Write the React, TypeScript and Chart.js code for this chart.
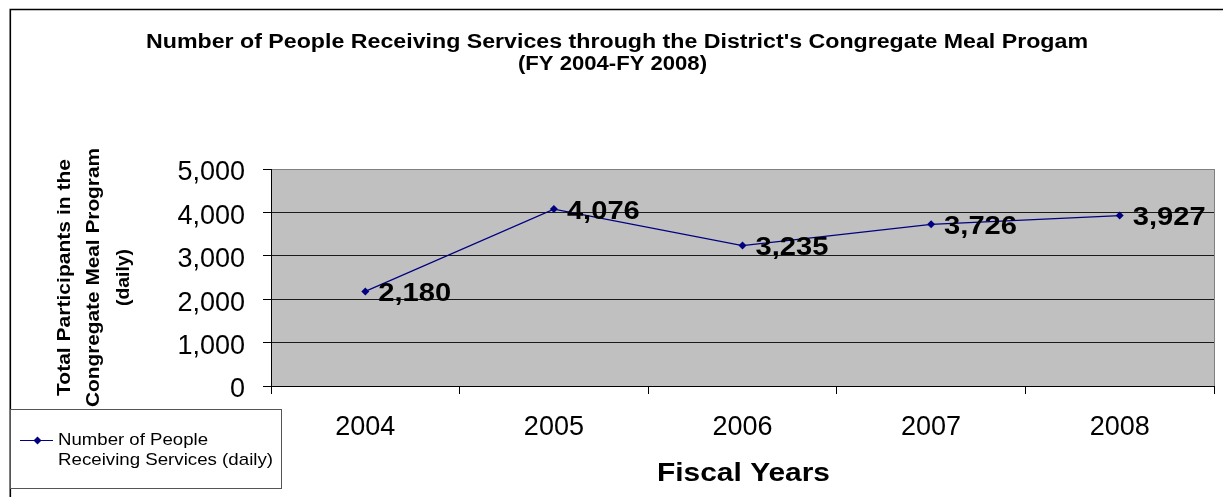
import { useEffect, useRef } from 'react';
import { Chart, registerables } from 'chart.js';

Chart.register(...registerables);

const categories = ['2004', '2005', '2006', '2007', '2008'];
const participants = [2180, 4076, 3235, 3726, 3927];
const yMin = 0;
const yMax = 5000;
const yStep = 1000;
const chartTitle = [
  "Number of People Receiving Services through the District's Congregate Meal Progam",
  '(FY 2004-FY 2008)',
];
const yTitle = ['Total Participants in the', 'Congregate Meal Program', '(daily)'];
const xTitle = 'Fiscal Years';
const seriesName = ['Number of People', 'Receiving Services (daily)'];

const FAMILY = '"Liberation Sans", Arial, Helvetica, sans-serif';
const NAVY = '#000080';

function drawText(
  ctx: CanvasRenderingContext2D,
  text: string,
  x: number,
  y: number,
  font: string,
  align: CanvasTextAlign,
  opts: { width?: number; sx?: number; rotate?: boolean; baseline?: CanvasTextBaseline } = {}
) {
  ctx.save();
  ctx.font = font;
  const w = ctx.measureText(text).width;
  const sx = opts.width ? opts.width / w : opts.sx ?? 1;
  ctx.translate(x, y);
  if (opts.rotate) ctx.rotate(-Math.PI / 2);
  ctx.scale(sx, 1);
  ctx.textAlign = align;
  ctx.textBaseline = opts.baseline ?? 'alphabetic';
  ctx.fillStyle = '#000';
  ctx.fillText(text, 0, 0);
  ctx.restore();
}

const decor = {
  id: 'decor',
  beforeDraw(chart: any) {
    const { ctx, chartArea: a } = chart;
    ctx.save();
    ctx.fillStyle = '#ffffff';
    ctx.fillRect(0, 0, chart.width, chart.height);
    ctx.fillStyle = '#c0c0c0';
    ctx.fillRect(a.left, a.top, a.right - a.left, a.bottom - a.top);
    ctx.restore();
  },
  afterDatasetsDraw(chart: any) {
    const { ctx } = chart;
    const meta = chart.getDatasetMeta(0);
    meta.data.forEach((pt: any, i: number) => {
      const label = participants[i].toLocaleString('en-US');
      drawText(ctx, label, pt.x + 13, pt.y + 9.5, `bold 26px ${FAMILY}`, 'left', { sx: 1.12 });
    });
  },
  afterDraw(chart: any) {
    const { ctx, chartArea: a } = chart;
    ctx.save();
    // plot area right border (grey)
    ctx.strokeStyle = '#808080';
    ctx.lineWidth = 1;
    ctx.beginPath();
    ctx.moveTo(Math.round(a.right) + 0.5, a.top);
    ctx.lineTo(Math.round(a.right) + 0.5, a.bottom);
    ctx.stroke();
    // outer frame
    ctx.strokeStyle = '#000';
    ctx.lineWidth = 1.6;
    ctx.beginPath();
    ctx.moveTo(10.3, chart.height);
    ctx.lineTo(10.3, 9.5);
    ctx.lineTo(chart.width, 9.5);
    ctx.stroke();
    ctx.restore();

    // chart title
    drawText(ctx, chartTitle[0], 617, 48, `bold 20px ${FAMILY}`, 'center', { width: 942 });
    drawText(ctx, chartTitle[1], 612.5, 70, `bold 20px ${FAMILY}`, 'center', { width: 189 });

    // y axis title (rotated)
    const cy = (a.top + a.bottom) / 2;
    const yFont = `bold 18px ${FAMILY}`;
    drawText(ctx, yTitle[0], 65, cy, yFont, 'center', { width: 237, rotate: true, baseline: 'middle' });
    drawText(ctx, yTitle[1], 94.5, cy, yFont, 'center', { width: 259, rotate: true, baseline: 'middle' });
    drawText(ctx, yTitle[2], 124.5, cy, yFont, 'center', { width: 57, rotate: true, baseline: 'middle' });

    // x axis title
    drawText(ctx, xTitle, (a.left + a.right) / 2 + 1, 481, `bold 25px ${FAMILY}`, 'center', { width: 173 });

    // legend box
    ctx.save();
    ctx.fillStyle = '#ffffff';
    ctx.fillRect(10, 409, 271, 79);
    ctx.strokeStyle = '#555555';
    ctx.lineWidth = 1;
    ctx.strokeRect(10.5, 409.5, 271, 79);
    ctx.strokeStyle = NAVY;
    ctx.lineWidth = 1.2;
    ctx.beginPath();
    ctx.moveTo(20, 440.5);
    ctx.lineTo(53, 440.5);
    ctx.stroke();
    ctx.fillStyle = NAVY;
    ctx.beginPath();
    ctx.moveTo(37.5, 436.5);
    ctx.lineTo(41.5, 440.5);
    ctx.lineTo(37.5, 444.5);
    ctx.lineTo(33.5, 440.5);
    ctx.closePath();
    ctx.fill();
    ctx.restore();
    const lFont = `17px ${FAMILY}`;
    drawText(ctx, seriesName[0], 58, 445, lFont, 'left', { width: 150 });
    drawText(ctx, seriesName[1], 58, 465, lFont, 'left', { width: 215 });
  },
};

export default function App() {
  const ref = useRef<HTMLCanvasElement | null>(null);

  useEffect(() => {
    document.body.style.margin = '0';
    const canvas = ref.current;
    if (!canvas) return;
    const chart = new Chart(canvas, {
      type: 'line',
      data: {
        labels: categories,
        datasets: [
          {
            label: seriesName.join(' '),
            data: participants,
            borderColor: NAVY,
            backgroundColor: NAVY,
            borderWidth: 1.2,
            pointStyle: 'rectRot',
            pointRadius: 4,
            pointBackgroundColor: NAVY,
            pointBorderColor: NAVY,
            pointBorderWidth: 0,
            tension: 0,
            fill: false,
          },
        ],
      },
      options: {
        responsive: false,
        maintainAspectRatio: false,
        animation: false,
        devicePixelRatio: 1,
        layout: { padding: { top: 169, right: 9, left: 0, bottom: 0 } },
        plugins: {
          legend: { display: false },
          title: { display: false },
          tooltip: { enabled: false },
        },
        scales: {
          x: {
            type: 'category',
            offset: true,
            grid: {
              offset: true,
              drawOnChartArea: false,
              drawTicks: true,
              tickLength: 8,
              color: '#000',
            },
            border: { display: true, color: '#000', width: 1 },
            ticks: {
              font: { family: FAMILY, size: 27 },
              color: '#000',
              padding: 17,
              maxRotation: 0,
              autoSkip: false,
            },
            afterFit: (s: any) => {
              s.height = 111;
            },
          },
          y: {
            min: yMin,
            max: yMax,
            ticks: {
              stepSize: yStep,
              font: { family: FAMILY, size: 27 },
              color: '#000',
              padding: 18,
              labelOffset: 4,
              callback: (v: any) => Number(v).toLocaleString('en-US'),
            },
            grid: {
              color: (c: any) => (c.tick && c.tick.value === yMax ? '#808080' : '#1a1a1a'),
              tickColor: '#000',
              tickLength: 8,
              drawTicks: true,
              lineWidth: 1,
            },
            border: { display: true, color: '#000', width: 1 },
            afterFit: (s: any) => {
              s.width = 271;
            },
          },
        },
      },
      plugins: [decor],
    } as any);
    return () => chart.destroy();
  }, []);

  return (
    <div style={{ position: 'absolute', left: 0, top: 0, width: 1223, height: 497 }}>
      <canvas ref={ref} width={1223} height={497} style={{ display: 'block' }} />
    </div>
  );
}
